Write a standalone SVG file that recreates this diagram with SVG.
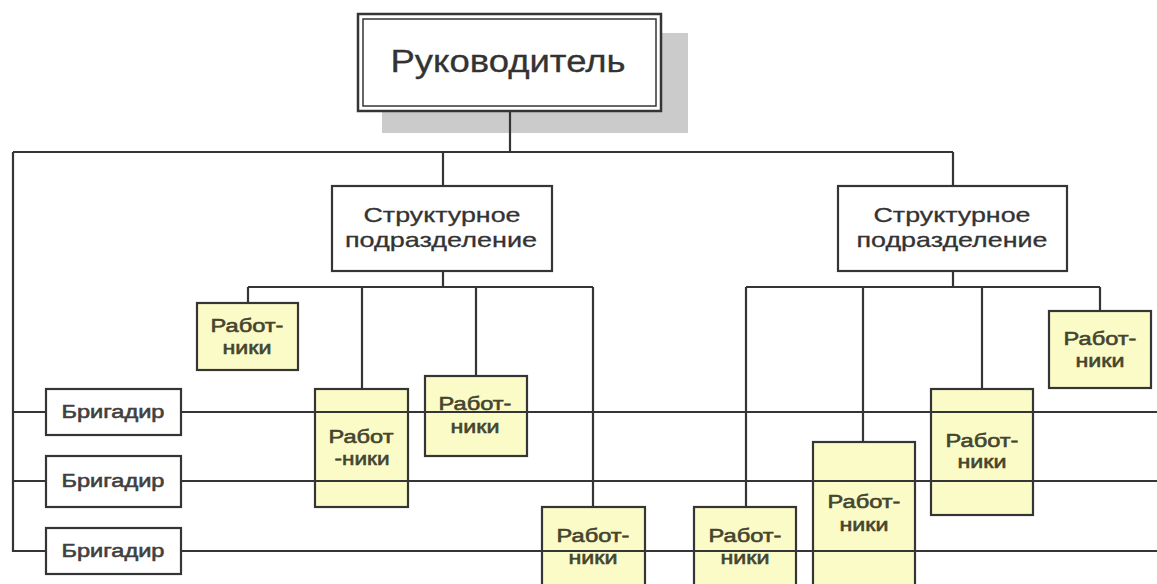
<svg xmlns="http://www.w3.org/2000/svg" width="1157" height="584" viewBox="0 0 1157 584">
<style>
.bg{fill:#ffffff}
.box{fill:#ffffff;stroke:#353535;stroke-width:2.2}
.wk{fill:#fbfbc8;stroke:#353535;stroke-width:2.2}
.shadow{fill:#cbcbcb}
.t{font-family:"Liberation Sans",Arial,sans-serif;fill:#333333;text-anchor:middle}
.big{font-size:31px;stroke:#333333;stroke-width:0.3}
.sp{font-size:21px;stroke:#333333;stroke-width:0.3}
.br{font-size:18px;fill:#404040;stroke:#404040;stroke-width:0.55}
.w{font-size:18px;fill:#45452f;stroke:#45452f;stroke-width:0.55}
.ln{fill:none;stroke:#353535;stroke-width:2.2}
</style>
<rect class="bg" x="0" y="0" width="1157" height="584"/>
<g id="head">
  <rect class="shadow" x="382" y="33" width="306" height="100"/>
  <rect x="358" y="14" width="303" height="97" fill="#ffffff" stroke="#353535" stroke-width="2.5"/>
  <rect x="363" y="19" width="293" height="87" fill="none" stroke="#353535" stroke-width="1.5"/>
  <text class="t big" x="508" y="72" textLength="235" lengthAdjust="spacingAndGlyphs">Руководитель</text>
</g>
<g id="sp-left">
  <rect class="box" x="332" y="186" width="220" height="85"/>
  <text class="t sp" x="442" y="222" textLength="157" lengthAdjust="spacingAndGlyphs">Структурное</text>
  <text class="t sp" x="441" y="247" textLength="192" lengthAdjust="spacingAndGlyphs">подразделение</text>
</g>
<g id="sp-right">
  <rect class="box" x="838" y="186" width="229" height="85"/>
  <text class="t sp" x="952" y="222" textLength="157" lengthAdjust="spacingAndGlyphs">Структурное</text>
  <text class="t sp" x="952" y="247" textLength="191" lengthAdjust="spacingAndGlyphs">подразделение</text>
</g>
<g id="brig1">
  <rect class="box" x="46" y="389" width="135" height="46"/>
  <text class="t br" x="113" y="418" textLength="103" lengthAdjust="spacingAndGlyphs">Бригадир</text>
</g>
<g id="brig2">
  <rect class="box" x="46" y="456" width="135" height="51"/>
  <text class="t br" x="113" y="487" textLength="103" lengthAdjust="spacingAndGlyphs">Бригадир</text>
</g>
<g id="brig3">
  <rect class="box" x="46" y="528" width="135" height="46"/>
  <text class="t br" x="113" y="557" textLength="103" lengthAdjust="spacingAndGlyphs">Бригадир</text>
</g>
<g id="w1">
  <rect class="wk" x="197" y="303" width="101" height="67"/>
  <text class="t w" x="247" y="332" textLength="73" lengthAdjust="spacingAndGlyphs">Работ-</text>
  <text class="t w" x="247" y="354" textLength="49" lengthAdjust="spacingAndGlyphs">ники</text>
</g>
<g id="w2">
  <rect class="wk" x="315" y="389" width="93" height="118"/>
  <text class="t w" x="361" y="443" textLength="65" lengthAdjust="spacingAndGlyphs">Работ</text>
  <text class="t w" x="362" y="465" textLength="55" lengthAdjust="spacingAndGlyphs">-ники</text>
</g>
<g id="w3">
  <rect class="wk" x="425" y="376" width="102" height="80"/>
  <text class="t w" x="475" y="410" textLength="73" lengthAdjust="spacingAndGlyphs">Работ-</text>
  <text class="t w" x="475" y="433" textLength="49" lengthAdjust="spacingAndGlyphs">ники</text>
</g>
<g id="w4">
  <rect class="wk" x="542" y="507" width="103" height="95"/>
  <text class="t w" x="593" y="542" textLength="73" lengthAdjust="spacingAndGlyphs">Работ-</text>
  <text class="t w" x="593" y="564" textLength="49" lengthAdjust="spacingAndGlyphs">ники</text>
</g>
<g id="w5">
  <rect class="wk" x="694" y="507" width="102" height="95"/>
  <text class="t w" x="745" y="542" textLength="73" lengthAdjust="spacingAndGlyphs">Работ-</text>
  <text class="t w" x="745" y="564" textLength="49" lengthAdjust="spacingAndGlyphs">ники</text>
</g>
<g id="w6">
  <rect class="wk" x="813" y="442" width="102" height="160"/>
  <text class="t w" x="864" y="508" textLength="73" lengthAdjust="spacingAndGlyphs">Работ-</text>
  <text class="t w" x="864" y="531" textLength="49" lengthAdjust="spacingAndGlyphs">ники</text>
</g>
<g id="w7">
  <rect class="wk" x="931" y="389" width="102" height="126"/>
  <text class="t w" x="982" y="447" textLength="73" lengthAdjust="spacingAndGlyphs">Работ-</text>
  <text class="t w" x="982" y="468" textLength="49" lengthAdjust="spacingAndGlyphs">ники</text>
</g>
<g id="w8">
  <rect class="wk" x="1049" y="311" width="102" height="77"/>
  <text class="t w" x="1100" y="345" textLength="73" lengthAdjust="spacingAndGlyphs">Работ-</text>
  <text class="t w" x="1100" y="367" textLength="49" lengthAdjust="spacingAndGlyphs">ники</text>
</g>
<g id="connectors">
  <path class="ln" d="M510 111 V152 M13 152 H953 M443 152 V186 M953 152 V186 M13 152 V552"/>
  <path class="ln" d="M13 412 H46 M13 481 H46 M13 551 H46"/>
  <path class="ln" d="M181 412 H1157 M181 481 H1157 M181 551 H1157"/>
  <path class="ln" d="M443 271 V287 M248 287 H593 M248 287 V303 M362 287 V389 M476 287 V376 M593 287 V507"/>
  <path class="ln" d="M953 271 V287 M746 287 H1100 M746 287 V507 M863 287 V442 M982 287 V389 M1100 287 V311"/>
</g>
</svg>
